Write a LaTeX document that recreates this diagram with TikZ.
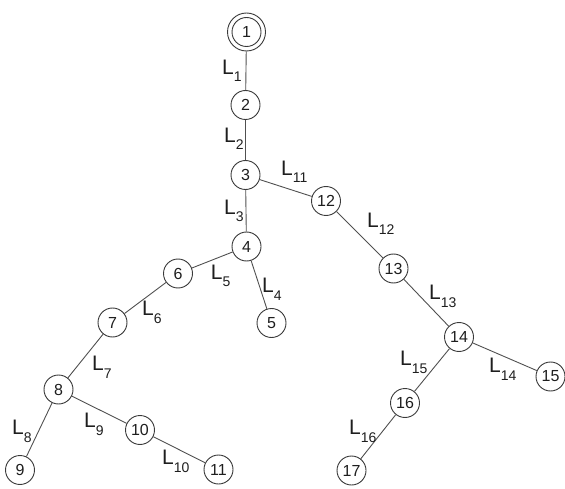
\documentclass[tikz,border=0pt]{standalone}
\usepackage{fontspec}
\setmainfont{Liberation Sans}
\definecolor{edgec}{HTML}{505050}
\definecolor{circc}{HTML}{3A3A3A}
\definecolor{txtc}{HTML}{1E1E1E}
\newcommand\lsub[1]{\raisebox{-7.5pt}{\fontsize{14}{14}\selectfont #1}}
\begin{document}
\begin{tikzpicture}[x=1pt,y=-1pt,
  bus/.style={circle,draw=circc,line width=0.9pt,minimum size=29pt,inner sep=0pt,
    text=txtc,font=\fontsize{16}{16}\selectfont,fill=white},
  root/.style={bus,minimum size=38pt},
  lab/.style={anchor=base west,inner sep=0pt,text=txtc,font=\fontsize{21}{21}\selectfont},
  wire/.style={draw=edgec,line width=0.9pt}]
\useasboundingbox (0,0) rectangle (565,489);
\node[root] (n1) at (246.5,32) {};
\node[bus] (n1i) at (n1.center) {1};
\node[bus] (n2) at (245.5,105) {2};
\node[bus] (n3) at (245.5,175) {3};
\node[bus] (n4) at (246.5,246.5) {4};
\node[bus] (n5) at (271.5,323) {5};
\node[bus] (n6) at (178,273.5) {6};
\node[bus] (n7) at (112.5,322.5) {7};
\node[bus] (n8) at (58.5,389.5) {8};
\node[bus] (n9) at (20,470) {9};
\node[bus] (n10) at (140,430) {10};
\node[bus] (n11) at (218.5,469.5) {11};
\node[bus] (n12) at (326,201) {12};
\node[bus] (n13) at (393.5,268.5) {13};
\node[bus] (n14) at (459,337) {14};
\node[bus] (n15) at (550.5,376.5) {15};
\node[bus] (n16) at (405,403) {16};
\node[bus] (n17) at (351.5,470.5) {17};
\draw[wire] (n1) -- (n2);
\draw[wire] (n2) -- (n3);
\draw[wire] (n3) -- (n4);
\draw[wire] (n4) -- (n5);
\draw[wire] (n4) -- (n6);
\draw[wire] (n6) -- (n7);
\draw[wire] (n7) -- (n8);
\draw[wire] (n8) -- (n9);
\draw[wire] (n8) -- (n10);
\draw[wire] (n10) -- (n11);
\draw[wire] (n3) -- (n12);
\draw[wire] (n12) -- (n13);
\draw[wire] (n13) -- (n14);
\draw[wire] (n14) -- (n15);
\draw[wire] (n14) -- (n16);
\draw[wire] (n16) -- (n17);
\node[lab] (l1) at (222,74.5) {L\lsub{1}};
\node[lab] (l2) at (224,142.5) {L\lsub{2}};
\node[lab] (l3) at (224,214.5) {L\lsub{3}};
\node[lab] (l4) at (262,292.5) {L\lsub{4}};
\node[lab] (l5) at (210.7,279.2) {L\lsub{5}};
\node[lab] (l6) at (142,315.5) {L\lsub{6}};
\node[lab] (l7) at (92,370.5) {L\lsub{7}};
\node[lab] (l8) at (12,434.5) {L\lsub{8}};
\node[lab] (l9) at (84,427.5) {L\lsub{9}};
\node[lab] (l10) at (162,464.5) {L\lsub{10}};
\node[lab] (l11) at (281,175.5) {L\lsub{11}};
\node[lab] (l12) at (367,227.5) {L\lsub{12}};
\node[lab] (l13) at (429,299.5) {L\lsub{13}};
\node[lab] (l14) at (489,372.5) {L\lsub{14}};
\node[lab] (l15) at (400,365.5) {L\lsub{15}};
\node[lab] (l16) at (349,434.5) {L\lsub{16}};
\end{tikzpicture}
\end{document}
